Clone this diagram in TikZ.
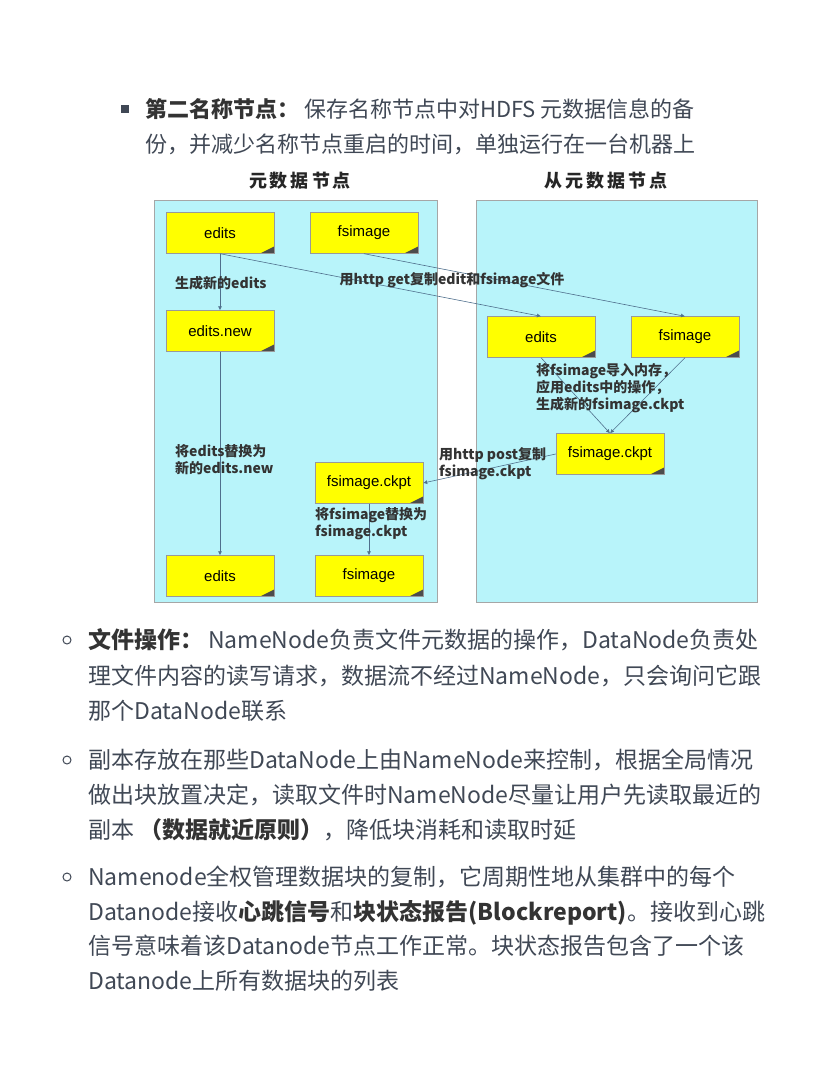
\documentclass[tikz,border=0pt]{standalone}
\usepackage{fontspec}
\setmainfont{Liberation Sans}
\newfontfamily\cjk{Noto Sans CJK SC}
\usetikzlibrary{arrows.meta,positioning}
\definecolor{panelcyan}{HTML}{B8F4FA}
\definecolor{noteyellow}{HTML}{FFFF00}
\definecolor{wire}{HTML}{4F6F8C}
\definecolor{bodytext}{HTML}{404855}
\tikzset{>={Latex[width=4pt,length=4pt]}}
\tikzset{
  panel/.style = {draw=gray!70, fill=panelcyan},
  note/.style = {draw=gray!80, fill=noteyellow, minimum width=108pt, minimum height=41pt,
    inner sep=0pt, font=\fontsize{15}{15}\selectfont,
    path picture={\fill[black!70] (path picture bounding box.south east) -- ++(-14pt,0) -- ++(14pt,7pt) -- cycle;}},
  wirelabel/.style = {font=\cjk\bfseries\fontsize{14}{17}\selectfont, text=black!80, align=left, inner sep=1pt},
  bodyline/.style = {anchor=base west, font=\cjk\fontsize{23}{23}\selectfont, text=bodytext, inner sep=0pt},
  headline/.style = {bodyline, font=\cjk\fontsize{22}{22}\selectfont},
  title/.style = {font=\cjk\bfseries\fontsize{18}{18}\selectfont, text=black!85}
}
\begin{document}
\begin{tikzpicture}[x=1pt, y=-1pt]
  \useasboundingbox (0,0) rectangle (837,1086);
  % heading
  \fill[bodytext] (121,105) rectangle (129,113);
  \node (h1) [headline] at (145,118) {\textcolor{black!80}{\bfseries 第二名称节点：}\ 保存名称节点中对HDFS 元数据信息的备};
  \node (h2) [headline] at (145,153) {份，并减少名称节点重启的时间，单独运行在一台机器上};
  % panels
  \draw[panel] (154,200) rectangle (437,602);
  \draw[panel] (476,200) rectangle (757,602);
  \node (tl) [title] at (300,181) {元\,数\,据\,节\,点};
  \node (tr) [title] at (606,181) {从\,元\,数\,据\,节\,点};
  % files
  \node (edits) [note] at (220,233) {edits};
  \node (fsimage) [note] at (364,233) {fsimage};
  \node (editsnew) [note] at (220,331) {edits.new};
  \node (redits) [note] at (541,337) {edits};
  \node (rfsimage) [note] at (685,337) {fsimage};
  \node (rckpt) [note] at (610,454) {fsimage.ckpt};
  \node (lckpt) [note] at (369,483) {fsimage.ckpt};
  \node (bedits) [note] at (220,576) {edits};
  \node (bfsimage) [note] at (369,576) {fsimage};
  % flows
  \draw[->, wire, semithick] (edits) -- (editsnew);
  \draw[->, wire, semithick] (edits.south) -- (redits.north);
  \draw[->, wire, semithick] (fsimage.south) -- (rfsimage.north);
  \draw[->, wire, semithick] (redits.south) -- (rckpt.north);
  \draw[->, wire, semithick] (rfsimage.south) -- (rckpt.north);
  \draw[->, wire, semithick] (rckpt.west) -- (lckpt.east);
  \draw[->, wire, semithick] (lckpt) -- (bfsimage);
  \draw[->, wire, semithick] (editsnew) -- (bedits);
  \node (l1) [wirelabel, anchor=west] at (174,283) {生成新的edits};
  \node (l2) [wirelabel] at (452,280) {用http get复制edit和fsimage文件};
  \node (l3) [wirelabel, anchor=north west] at (535,362) {将fsimage导入内存，\\应用edits中的操作，\\生成新的fsimage.ckpt};
  \node (l4) [wirelabel, anchor=west] at (438,464) {用http post复制\\fsimage.ckpt};
  \node (l5) [wirelabel, anchor=west] at (174,460) {将edits替换为\\新的edits.new};
  \node (l6) [wirelabel, anchor=west] at (314,524) {将fsimage替换为\\fsimage.ckpt};
  % lower bullets
  \foreach \yy in {640,760,877}
    \draw[bodytext, line width=1pt] (67,\yy) circle (4pt);
  \node (p1) [bodyline] at (88,648) {\textcolor{black!80}{\bfseries 文件操作：}\ NameNode负责文件元数据的操作，DataNode负责处};
  \node (p2) [bodyline] at (88,684) {理文件内容的读写请求，数据流不经过NameNode，只会询问它跟};
  \node (p3) [bodyline] at (88,719) {那个DataNode联系};
  \node (q1) [bodyline] at (88,768) {副本存放在那些DataNode上由NameNode来控制，根据全局情况};
  \node (q2) [bodyline] at (88,803) {做出块放置决定，读取文件时NameNode尽量让用户先读取最近的};
  \node (q3) [bodyline] at (88,838) {副本 \textcolor{black!80}{\bfseries （数据就近原则）}，降低块消耗和读取时延};
  \node (r1) [bodyline] at (88,885) {Namenode全权管理数据块的复制，它周期性地从集群中的每个};
  \node (r2) [bodyline] at (88,920) {Datanode接收\textcolor{black!80}{\bfseries 心跳信号}和\textcolor{black!80}{\bfseries 块状态报告(Blockreport)}。接收到心跳};
  \node (r3) [bodyline] at (88,954) {信号意味着该Datanode节点工作正常。块状态报告包含了一个该};
  \node (r4) [bodyline] at (88,989) {Datanode上所有数据块的列表};
\end{tikzpicture}
\end{document}
